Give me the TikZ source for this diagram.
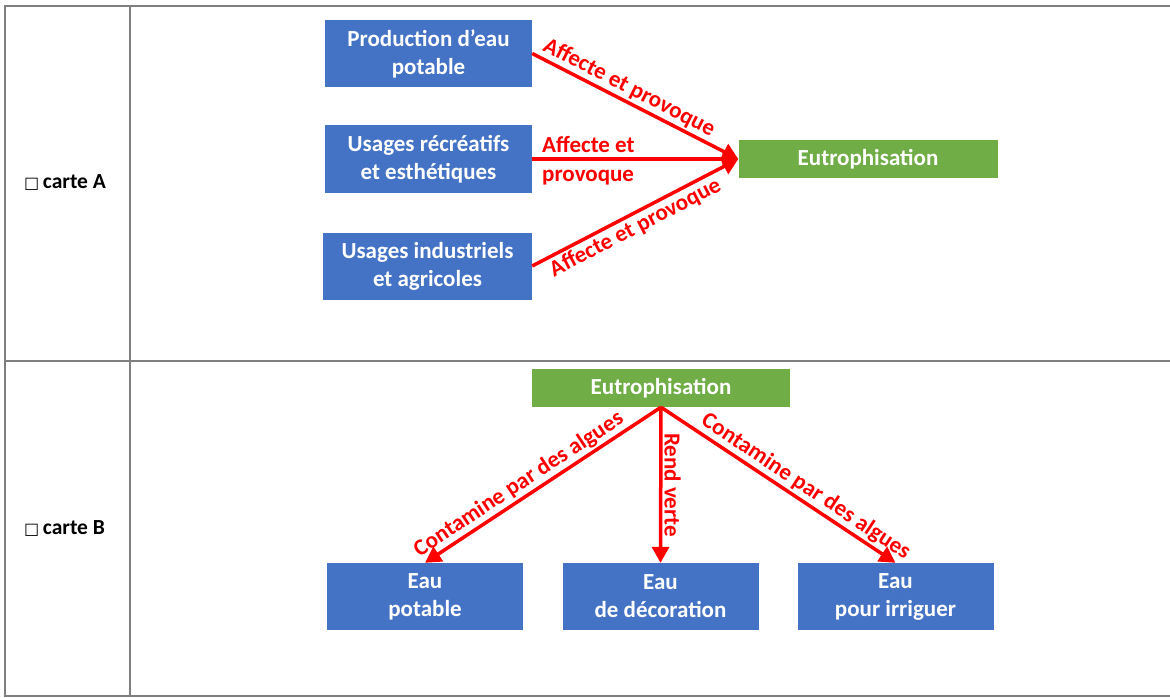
\documentclass[tikz,border=0pt]{standalone}
\usepackage{fontspec}
\setmainfont{Carlito}
\newfontfamily\symfont{DejaVu Sans}
\usetikzlibrary{arrows.meta}
\definecolor{boxblue}{HTML}{4472C4}
\definecolor{boxgreen}{HTML}{70AD47}
\definecolor{arrred}{HTML}{FF0000}
\definecolor{rulegray}{HTML}{7F7F7F}
\begin{document}
\begin{tikzpicture}[x=1pt,y=1pt,
  bluebox/.style={fill=boxblue, draw=none, text=white, font=\fontsize{23}{28}\selectfont\bfseries, align=center, minimum height=67pt, inner sep=0pt},
  greenbox/.style={fill=boxgreen, draw=none, text=white, font=\fontsize{23}{28}\selectfont\bfseries, minimum width=259pt, minimum height=38pt, inner sep=0pt},
  arr/.style={draw=arrred, line width=3.5pt, -{Triangle[length=16pt,width=17pt]}},
  lbl/.style={text=arrred, font=\fontsize{23}{29}\selectfont\bfseries, inner sep=2pt},
  tbl/.style={draw=rulegray, line width=2pt},
  carte/.style={anchor=base west, inner sep=0pt, font=\fontsize{21.5}{24}\selectfont\bfseries}
  ]
\useasboundingbox (0,0) rectangle (1170,-698);
% table
\draw[tbl] (4,-6) -- (1170,-6);
\draw[tbl] (4,-361) -- (1170,-361);
\draw[tbl] (4,-696) -- (1170,-696);
\draw[tbl] (5,-6) -- (5,-697);
\draw[tbl] (130,-6) -- (130,-697);
% column labels
\node[carte] (cA) at (24,-189) {{\symfont\fontsize{16}{16}\selectfont □}\,carte A};
\node[carte] (cB) at (24,-534) {{\symfont\fontsize{16}{16}\selectfont □}\,carte B};
% carte A
\node[bluebox, minimum width=207pt] (a1) at (428.5,-53.5) {Production d’eau\\potable};
\node[bluebox, minimum width=207pt] (a2) at (428.5,-159) {Usages récréatifs\\et esthétiques};
\node[bluebox, minimum width=209pt] (a3) at (427.5,-266) {Usages industriels\\et agricoles};
\node[greenbox] (eA) at (868,-159) {Eutrophisation};
\draw[arr] (a1.east) -- (eA.west) node[lbl, sloped, above, pos=0.44] (l1) {Affecte et provoque};
\draw[arr] (a2.east) -- (eA.west);
\node[lbl, anchor=west, align=left, inner sep=0pt] (l2) at (542,-161) {Affecte et\\provoque};
\draw[arr] (a3.east) -- (eA.west) node[lbl, sloped, below, pos=0.47] (l3) {Affecte et provoque};
% carte B
\node[greenbox, minimum width=258pt] (eB) at (661,-388) {Eutrophisation};
\node[bluebox, minimum width=196pt] (b1) at (425,-596.5) {Eau\\potable};
\node[bluebox, minimum width=196pt] (b2) at (660.5,-596.5) {Eau\\de décoration};
\node[bluebox, minimum width=196pt] (b3) at (895.5,-596.5) {Eau\\pour irriguer};
\draw[arr] (eB.south) -- (b1.north) node[lbl, sloped, above, pos=0.57] (m1) {Contamine par des algues};
\draw[arr] (eB.south) -- (b2.north) node[lbl, rotate=-90, anchor=south, pos=0.5] (m2) {Rend verte};
\draw[arr] (eB.south) -- (b3.north) node[lbl, sloped, above, pos=0.585] (m3) {Contamine par des algues};
\end{tikzpicture}
\end{document}
